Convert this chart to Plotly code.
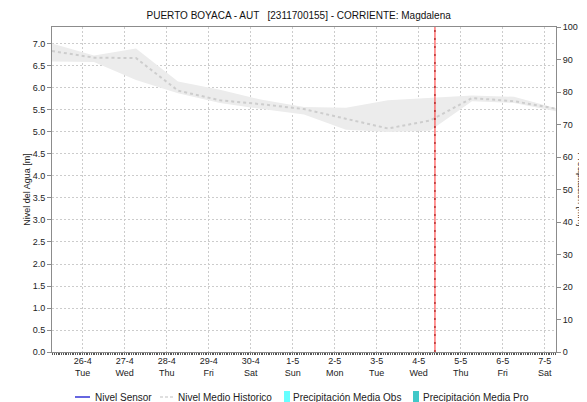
import plotly.graph_objects as go

# ---- data ----
fechas = ["2022-04-25 06:30", "2022-04-26 06:30", "2022-04-27 06:30", "2022-04-28 06:30",
          "2022-04-29 06:30", "2022-04-30 06:30", "2022-05-01 06:30", "2022-05-02 06:30",
          "2022-05-03 06:30", "2022-05-04 06:30", "2022-05-05 06:30", "2022-05-06 06:30",
          "2022-05-07 06:30"]
nivel_medio = [6.84, 6.69, 6.68, 5.94, 5.72, 5.63, 5.52, 5.30, 5.08, 5.26, 5.77, 5.70, 5.53]
nivel_max = [7.01, 6.74, 6.90, 6.15, 5.96, 5.73, 5.57, 5.55, 5.72, 5.78, 5.83, 5.80, 5.54]
nivel_min = [6.60, 6.59, 6.18, 5.88, 5.66, 5.52, 5.40, 5.05, 5.00, 5.03, 5.70, 5.66, 5.47]
# no sensor / precipitation readings in the reference (legend entries only)
nivel_sensor_x = ["2022-05-04 09:20"]
nivel_sensor_y = [None]
precip_obs_x = ["2022-05-04"]
precip_obs_y = [None]
precip_pro_x = ["2022-05-05"]
precip_pro_y = [None]
tick_vals = ["2022-04-26", "2022-04-27", "2022-04-28", "2022-04-29", "2022-04-30", "2022-05-01",
             "2022-05-02", "2022-05-03", "2022-05-04", "2022-05-05", "2022-05-06", "2022-05-07"]
tick_text = ["26-4<br>Tue", "27-4<br>Wed", "28-4<br>Thu", "29-4<br>Fri", "30-4<br>Sat", "1-5<br>Sun",
             "2-5<br>Mon", "3-5<br>Tue", "4-5<br>Wed", "5-5<br>Thu", "6-5<br>Fri", "7-5<br>Sat"]
legend_names = ["Nivel Sensor", "Nivel Medio Historico", "Precipitación Media Obs", "Precipitación Media Pro"]
ahora = "2022-05-04 09:20"
x_range = ["2022-04-25 06:30", "2022-05-07 06:30"]

FONT = "Liberation Sans, Arial, sans-serif"
GRID = "#cccccc"
AX = "#8c8c8c"
C_SENSOR = "#0000cc"
C_MEDIO = "#cdcdcd"
C_OBS = "#66ffff"
C_PRO = "#40c8c8"

# figure geometry (page has an 8px body margin)
W, H = 579, 394
ML, MR, MT, MB = 44, 31, 19, 50
PW, PH = W - ML - MR, H - MT - MB


def px(fx):
    return (fx - ML) / PW


def py(fy):
    return (H - MB - fy) / PH


fig = go.Figure()

# band (min / max)
fig.add_trace(go.Scatter(x=fechas, y=nivel_min, mode="lines", line=dict(width=0, color="#ececec"),
                         showlegend=False, hoverinfo="skip"))
fig.add_trace(go.Scatter(x=fechas, y=nivel_max, mode="lines", line=dict(width=0, color="#ececec"),
                         fill="tonexty", fillcolor="#ececec", showlegend=False, hoverinfo="skip"))

fig.add_trace(go.Scatter(x=nivel_sensor_x, y=nivel_sensor_y, mode="lines", name=legend_names[0],
                         line=dict(color=C_SENSOR, width=1.2), showlegend=False))
fig.add_trace(go.Scatter(x=fechas, y=nivel_medio, mode="lines", name=legend_names[1],
                         line=dict(color=C_MEDIO, width=2, dash="dot"), showlegend=False))
fig.add_trace(go.Bar(x=precip_obs_x, y=precip_obs_y, name=legend_names[2],
                     marker_color=C_OBS, yaxis="y2", showlegend=False))
fig.add_trace(go.Bar(x=precip_pro_x, y=precip_pro_y, name=legend_names[3],
                     marker_color=C_PRO, yaxis="y2", showlegend=False))

# current time marker
fig.add_shape(type="line", xref="x", yref="paper", x0=ahora, x1=ahora, y0=0, y1=1,
              line=dict(color="#ff3030", width=1))
fig.add_shape(type="line", xref="x", yref="paper", x0=ahora, x1=ahora, y0=0, y1=1,
              line=dict(color="#900000", width=1, dash="2px,6px"))

# custom legend (row at page y ~397)
ly = py(389)
fig.add_shape(type="line", xref="paper", yref="paper", x0=px(67), x1=px(82), y0=ly, y1=ly,
              line=dict(color=C_SENSOR, width=1.2))
fig.add_shape(type="line", xref="paper", yref="paper", x0=px(152), x1=px(165), y0=ly, y1=ly,
              line=dict(color="#c0c0c0", width=1.2, dash="3px,2px"))
fig.add_shape(type="rect", xref="paper", yref="paper", x0=px(276), x1=px(282), y0=py(394), y1=py(383),
              line=dict(width=0), fillcolor=C_OBS)
fig.add_shape(type="rect", xref="paper", yref="paper", x0=px(405), x1=px(411), y0=py(394), y1=py(383),
              line=dict(width=0), fillcolor=C_PRO)
for name, fx in zip(legend_names, [85, 168, 283, 413]):
    fig.add_annotation(text=name, xref="paper", yref="paper", x=px(fx), y=ly,
                       xanchor="left", yanchor="middle", showarrow=False,
                       font=dict(size=10, color="#222", family=FONT))

fig.update_layout(
    width=W, height=H,
    margin=dict(l=ML, r=MR, t=MT, b=MB, autoexpand=False),
    paper_bgcolor="white", plot_bgcolor="white",
    font=dict(family=FONT, size=9, color="#222"),
    title=dict(text="PUERTO BOYACA - AUT \u00a0\u00a0[2311700155] - CORRIENTE: Magdalena",
               xref="container", x=0.502, xanchor="center",
               yref="container", y=1 - 7 / H, yanchor="middle",
               font=dict(size=10, color="#111", family=FONT)),
    showlegend=False,
    xaxis=dict(type="date", range=x_range, tickvals=tick_vals, ticktext=tick_text,
               showgrid=True, gridcolor=GRID, griddash="2px,2px", gridwidth=1,
               showline=True, linecolor=AX, linewidth=1, mirror=True,
               ticks="", tickfont=dict(size=9, color="#222"),
               minor=dict(dtick=3600000, ticks="outside", ticklen=2, tickcolor="#555", showgrid=False),
               zeroline=False, fixedrange=True, automargin=False),
    yaxis=dict(range=[0, 7.386], dtick=0.5, tickformat=".1f",
               showgrid=True, gridcolor=GRID, griddash="2px,2px", gridwidth=1,
               showline=True, linecolor=AX, linewidth=1,
               ticks="outside", ticklen=4, tickcolor=AX,
               tickfont=dict(size=9, color="#222"), zeroline=False, automargin=False,
               title=dict(text="Nivel del Agua [m]", font=dict(size=9, color="#222"), standoff=0)),
    yaxis2=dict(range=[0, 100], dtick=10, overlaying="y", side="right",
                showgrid=False, showline=True, linecolor=AX, linewidth=1,
                ticks="outside", ticklen=4, tickcolor=AX, automargin=False,
                tickfont=dict(size=9, color="#222"), zeroline=False),
    bargap=0.2,
)

fig.add_annotation(text="Precipitación [mm]", xref="paper", yref="paper", x=px(573), y=0.5,
                   textangle=90, showarrow=False, font=dict(size=9, color="#222"),
                   xanchor="center", yanchor="middle")

fig.write_html("out.html")
